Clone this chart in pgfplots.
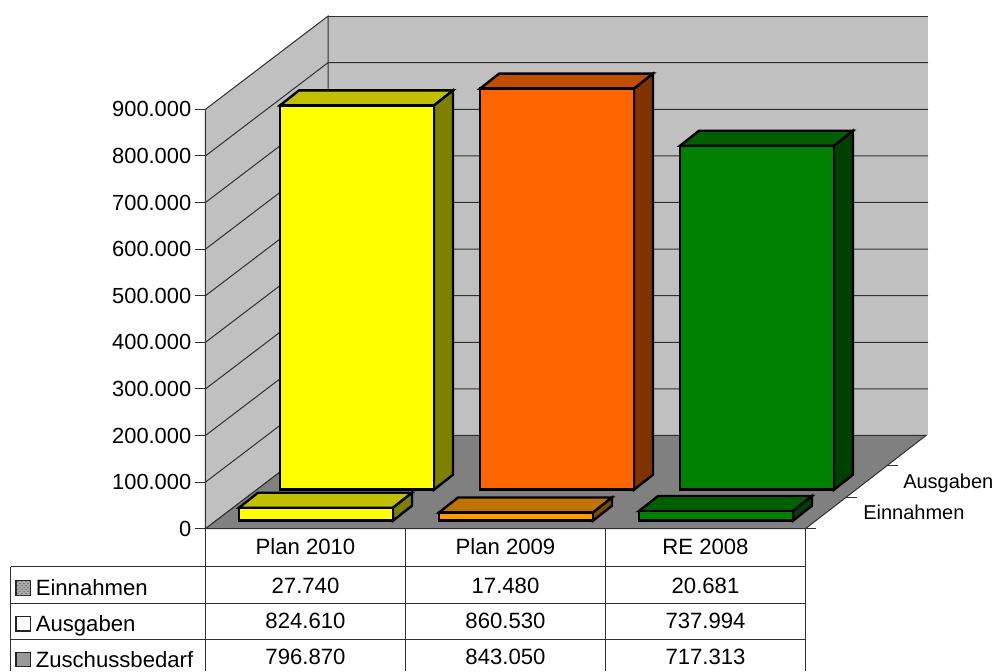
\documentclass[border=0pt]{standalone}
\usepackage{fontspec}
\setmainfont{Liberation Sans}
\usepackage{pgfplots}
\pgfplotsset{compat=1.18}
\usetikzlibrary{patterns}
\definecolor{wall}{HTML}{C0C0C0}
\definecolor{floorc}{HTML}{808080}
\definecolor{gridc}{HTML}{303030}
\definecolor{yf}{HTML}{FFFF00}\definecolor{yt}{HTML}{C0C000}\definecolor{ys}{HTML}{808000}
\definecolor{of}{HTML}{FF6600}\definecolor{ot}{HTML}{C04D00}\definecolor{os}{HTML}{803300}
\definecolor{gf}{HTML}{008000}\definecolor{gt}{HTML}{006000}\definecolor{gs}{HTML}{004000}
\definecolor{pf}{HTML}{FF9900}\definecolor{pt}{HTML}{C07300}\definecolor{ps}{HTML}{804D00}
\tikzset{
  barline/.style={draw=black, line width=1.8pt, line join=miter},
  thinl/.style={draw=gridc, line width=0.75pt},
  cell/.style={anchor=base, inner sep=0pt, font=\fontsize{16.6}{19}\selectfont},
  lab/.style={anchor=base west, inner sep=0pt, font=\fontsize{16.6}{19}\selectfont},
  dlab/.style={anchor=base west, inner sep=0pt, font=\fontsize{15}{18}\selectfont},
  keyb/.style={draw=black!85, line width=1.1pt},
}
% front-left x (px), base value, height value, colours of front, top, side
\newcommand{\barthree}[6]{%
  \pgfmathsetmacro{\xa}{#1+154}%
  \pgfmathsetmacro{\xb}{#1+19}%
  \pgfmathsetmacro{\xc}{#1+173}%
  \edef\ya{\the\numexpr#2+#3\relax}%
  \edef\yb{\the\numexpr#2+#3+32190\relax}%
  \edef\yc{\the\numexpr#2+32190\relax}%
  \addplot[barline,fill=#5] coordinates {(#1,\ya)(\xb,\yb)(\xc,\yb)(\xa,\ya)} --cycle;
  \addplot[barline,fill=#6] coordinates {(\xa,#2)(\xa,\ya)(\xc,\yb)(\xc,\yc)} --cycle;
  \addplot[barline,fill=#4] coordinates {(#1,#2)(#1,\ya)(\xa,\ya)(\xa,#2)} --cycle;
}
\begin{document}
\begin{tikzpicture}
\begin{axis}[
  scale only axis, width=450pt, height=314.55pt,
  xmin=205.5, xmax=805.5, ymin=0, ymax=900000,
  clip=false,
  axis x line=none, axis y line=left,
  axis line style={-, draw=gridc, line width=0.75pt},
  xtick=\empty,
  ytick={0,100000,200000,300000,400000,500000,600000,700000,800000,900000},
  yticklabels={0,100.000,200.000,300.000,400.000,500.000,600.000,700.000,800.000,900.000},
  scaled y ticks=false,
  tick align=outside,
  major tick length=7.5pt,
  tick style={draw=gridc, line width=0.6pt},
  yticklabel style={inner sep=0pt, xshift=-3pt, font=\fontsize{16.4}{19}\selectfont},
  no markers,
  every axis plot/.append style={forget plot},
]
% page extent
\path (axis cs:0,1134549) rectangle (axis cs:996,-305365);
% walls and floor
\addplot[draw=none,fill=wall] coordinates {(328,200000)(928,200000)(928,1100000)(328,1100000)} --cycle;
\addplot[thinl,fill=wall] coordinates {(205.5,0)(328,200000)(328,1100000)(205.5,900000)} --cycle;
\addplot[thinl,fill=floorc] coordinates {(205.5,0)(328,200000)(926,200000)(805.5,0)} --cycle;
% grid lines on walls
\addplot[thinl] coordinates {(205.5,100000)(328,300000)(928,300000)};
\addplot[thinl] coordinates {(205.5,200000)(328,400000)(928,400000)};
\addplot[thinl] coordinates {(205.5,300000)(328,500000)(928,500000)};
\addplot[thinl] coordinates {(205.5,400000)(328,600000)(928,600000)};
\addplot[thinl] coordinates {(205.5,500000)(328,700000)(928,700000)};
\addplot[thinl] coordinates {(205.5,600000)(328,800000)(928,800000)};
\addplot[thinl] coordinates {(205.5,700000)(328,900000)(928,900000)};
\addplot[thinl] coordinates {(205.5,800000)(328,1000000)(928,1000000)};
\addplot[thinl] coordinates {(328,1100000)(928,1100000)};
% Ausgaben row
\barthree{280}{83690}{824610}{yf}{yt}{ys}
\barthree{480}{83690}{860530}{of}{ot}{os}
\barthree{680}{83690}{737994}{gf}{gt}{gs}
% Einnahmen row
\barthree{239}{17167}{27740}{yf}{yt}{ys}
\barthree{439}{17167}{17480}{pf}{pt}{ps}
\barthree{639}{17167}{20681}{gf}{gt}{gs}
% depth axis ticks
\addplot[thinl] coordinates {(805.5,0)(816,0)};
\addplot[thinl] coordinates {(846,65880)(857,65880)};
\addplot[thinl] coordinates {(887,134549)(898,134549)};
\node[dlab] at (axis cs:863,20172) {Einnahmen};
\node[dlab] at (axis cs:903,85837) {Ausgaben};
% data table lines
\addplot[thinl] coordinates {(205.5,0)(805.5,0)};
\addplot[thinl] coordinates {(10.7,-82189)(805.5,-82189)};
\addplot[thinl] coordinates {(10.7,-160086)(805.5,-160086)};
\addplot[thinl] coordinates {(10.7,-238197)(805.5,-238197)};
\addplot[thinl] coordinates {(10.7,-82189)(10.7,-305365)};
\addplot[thinl] coordinates {(205.5,0)(205.5,-305365)};
\addplot[thinl] coordinates {(405.5,0)(405.5,-305365)};
\addplot[thinl] coordinates {(605.5,0)(605.5,-305365)};
\addplot[thinl] coordinates {(805.5,0)(805.5,-305365)};
% table text
\node[cell] at (axis cs:305.5,-56438) {Plan 2010};
\node[cell] at (axis cs:505.5,-56438) {Plan 2009};
\node[cell] at (axis cs:705.5,-56438) {RE 2008};
\node[cell] at (axis cs:305.5,-140129) {27.740};
\node[cell] at (axis cs:505.5,-140129) {17.480};
\node[cell] at (axis cs:705.5,-140129) {20.681};
\node[cell] at (axis cs:305.5,-214592) {824.610};
\node[cell] at (axis cs:505.5,-214592) {860.530};
\node[cell] at (axis cs:705.5,-214592) {737.994};
\node[cell] at (axis cs:305.5,-292489) {796.870};
\node[cell] at (axis cs:505.5,-292489) {843.050};
\node[cell] at (axis cs:705.5,-292489) {717.313};
\node[lab] at (axis cs:35.5,-143777) {Einnahmen};
\node[lab] at (axis cs:35.5,-221030) {Ausgaben};
\node[lab] at (axis cs:35.5,-298927) {Zuschussbedarf};
% legend keys
\addplot[keyb,fill=gray!65] coordinates {(16,-111588)(30.5,-111588)(30.5,-143777)(16,-143777)} --cycle;
\addplot[draw=none,pattern=crosshatch dots,pattern color=black!70] coordinates {(16,-111588)(30.5,-111588)(30.5,-143777)(16,-143777)} --cycle;
\addplot[keyb,fill=white] coordinates {(16,-188841)(30.5,-188841)(30.5,-219528)(16,-219528)} --cycle;
\addplot[keyb,fill=gray!80] coordinates {(16,-266094)(30.5,-266094)(30.5,-296137)(16,-296137)} --cycle;
\end{axis}
\end{tikzpicture}
\end{document}
